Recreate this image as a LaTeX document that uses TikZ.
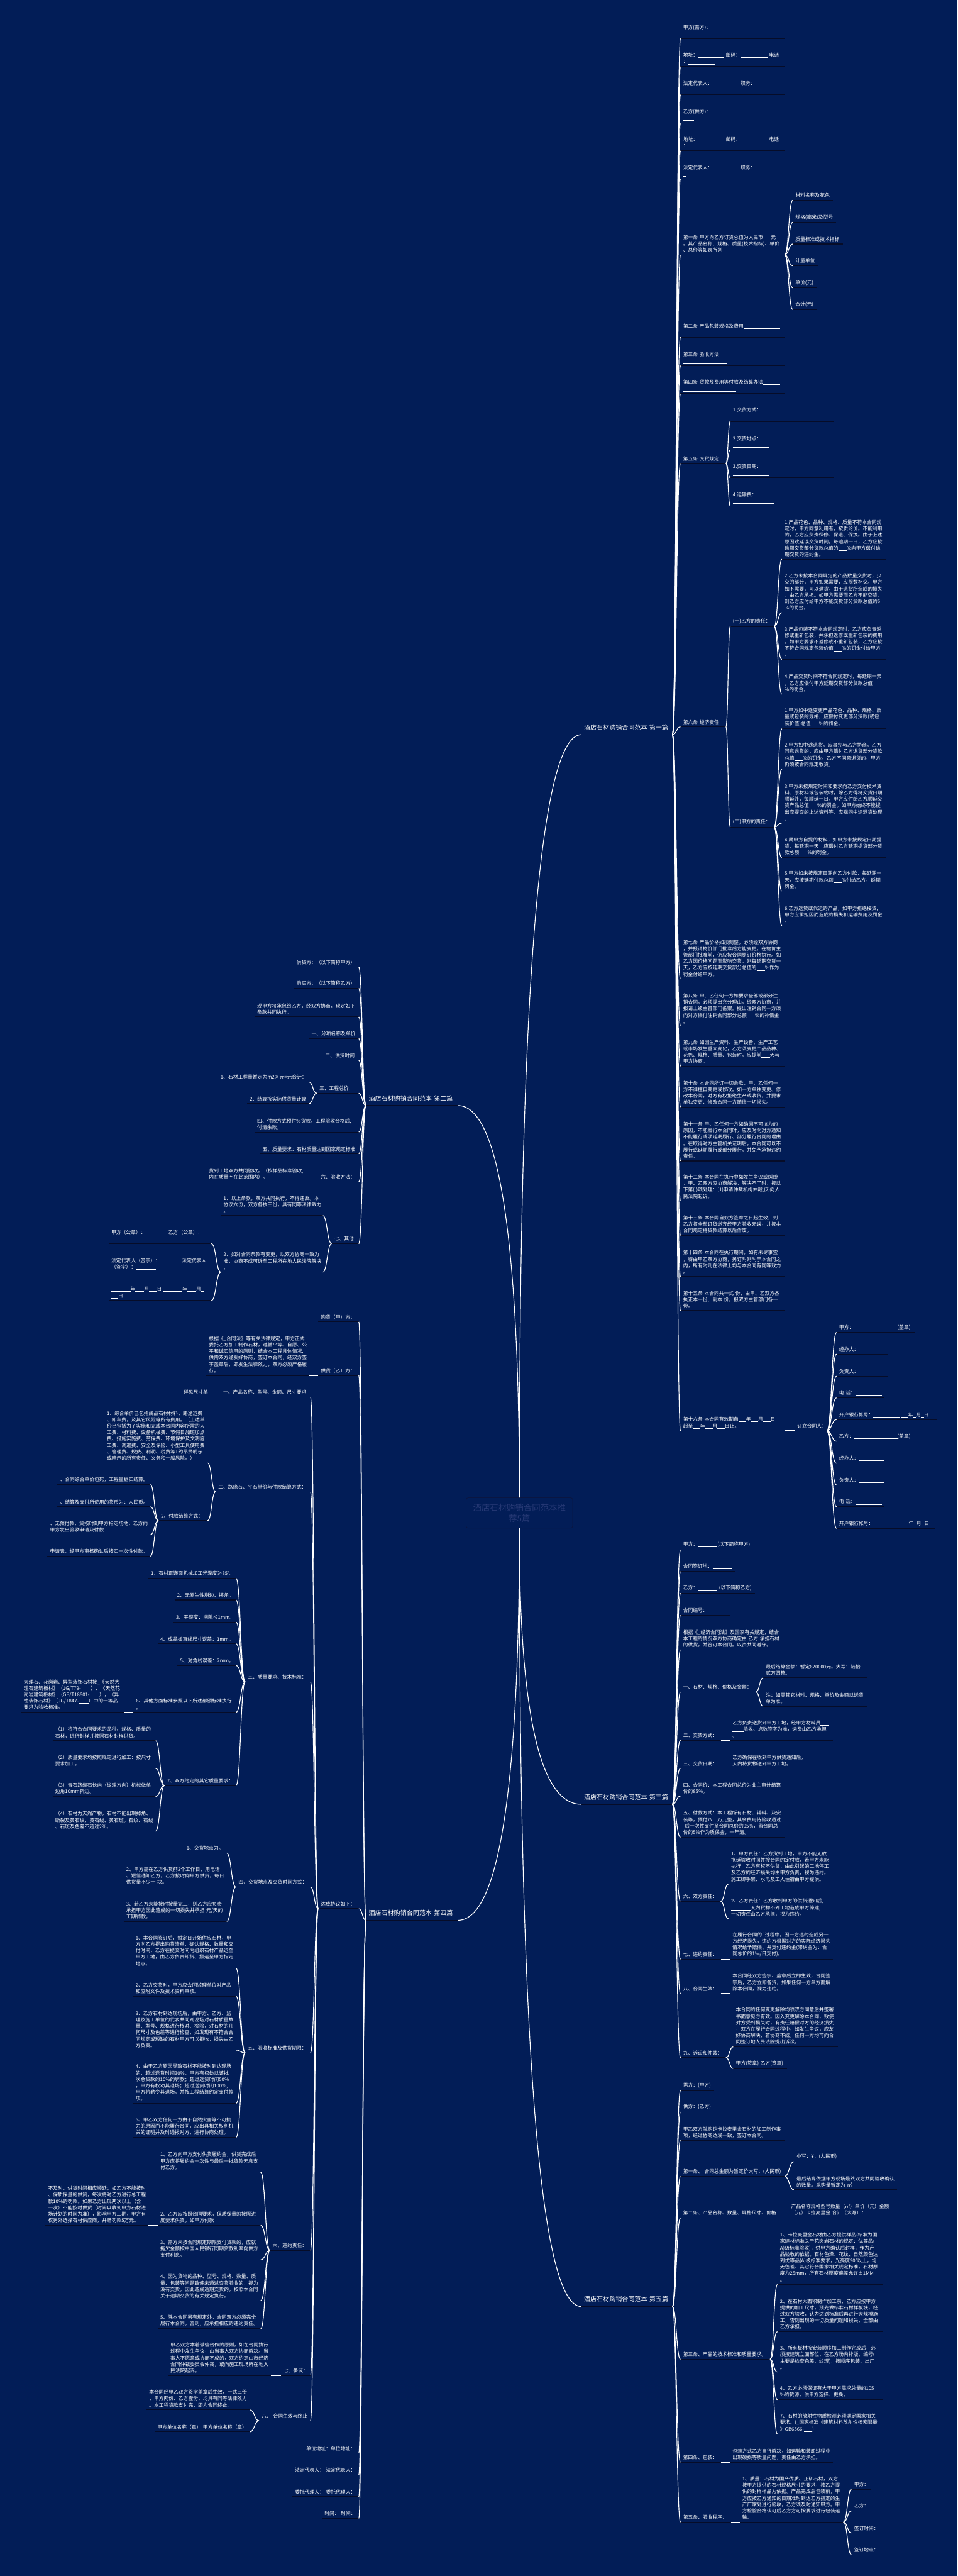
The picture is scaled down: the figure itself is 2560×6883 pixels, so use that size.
\documentclass[tikz,border=0pt]{standalone}
\usepackage{fontspec}
\setmainfont{Noto Sans CJK SC}
\usetikzlibrary{calc}
\definecolor{bgc}{RGB}{2,29,87}
\definecolor{ulc}{RGB}{6,12,40}
\definecolor{hubtx}{RGB}{40,58,118}
\definecolor{hubln}{RGB}{10,22,66}
\newcommand\blk[1]{\rule[-1.2pt]{#1em}{0.5pt}}
\newcommand\leafr[6][]{\pgfmathsetmacro\txw{(#4-#3)*0.7113-10}%
  \node[leaf,#1,text width=\txw pt,anchor=south west] (#2) at (#3,#5) {#6};
  \draw[uline] (#2.south west) -- (#2.south east);}
\newcommand\leafl[6][]{\pgfmathsetmacro\txw{(#4-#3)*0.7113-10}%
  \node[leaf,#1,text width=\txw pt,anchor=south east] (#2) at (#4,#5) {#6};
  \draw[uline] (#2.south west) -- (#2.south east);}
\newcommand\linkr[2]{\draw[conn] let \p1=(#1.south east), \p2=(#2.south west) in
  (\p1) .. controls ({(\x1+\x2)/2},\y1) and ({(\x1+\x2)/2},\y2) .. (\p2);}
\newcommand\linkl[2]{\draw[conn] let \p1=(#1.south west), \p2=(#2.south east) in
  (\p1) .. controls ({(\x1+\x2)/2},\y1) and ({(\x1+\x2)/2},\y2) .. (\p2);}

\begin{document}
\begin{tikzpicture}[x=0.025cm,y=-0.025cm,
  leaf/.style={font=\fontsize{9.3}{12.2}\selectfont,text=white,align=left,inner xsep=5pt,inner ysep=4.5pt},
  sect/.style={font=\fontsize{12}{15}\selectfont,inner ysep=8pt},
  uline/.style={draw=ulc,line width=1.3pt},
  conn/.style={draw=white,line width=1.4pt},
  hub/.style={draw=hubln,fill=bgc,rounded corners=4pt,line width=1pt,minimum width=202.7pt,minimum height=57.6pt,
    text width=196pt,align=center,inner sep=0pt,text=hubtx,font=\fontsize{16}{20.5}\selectfont}]
  \useasboundingbox (0,0) rectangle (2560,6883);
  \fill[bgc] (0,0) rectangle (2560,6883);

  \node[hub] (hub) at (1388.5,4042.5) {酒店石材购销合同范本推\\荐5篇};

  % 第一篇
  \leafr[sect]{s1}{1554}{1797}{1963}{酒店石材购销合同范本~第一篇}
  \leafr{a1}{1819}{2097}{103}{甲方(需方)：\blk{13.9}\\\blk{2.2}}
  \leafr{a2}{1819}{2097}{178}{地址：\blk{5.4}~邮码：\blk{5.5}~电话\\：\blk{5.4}}
  \leafr{a3}{1819}{2097}{253}{法定代表人：\blk{5.4}~职务：\blk{5}\\\blk{0.5}}
  \leafr{a4}{1819}{2097}{328}{乙方(供方)：\blk{13.9}\\\blk{2.2}}
  \leafr{a5}{1819}{2097}{403}{地址：\blk{5.4}~邮码：\blk{5.5}~电话\\：\blk{5.4}}
  \leafr{a6}{1819}{2097}{478}{法定代表人：\blk{5.4}~职务：\blk{5}\\\blk{0.5}}
  \leafr{a7}{1819}{2097}{681}{第一条~甲方向乙方订货总值为人民币\blk{1.6}元\\。其产品名称、规格、质量(技术指标)、单价\\、总价等如表所列}
  \leafr{b1}{2119}{2226}{535}{材料名称及花色}
  \leafr{b2}{2119}{2234}{594}{规格(毫米)及型号}
  \leafr{b3}{2119}{2252}{652}{质量标准或技术指标}
  \leafr{b4}{2119}{2186}{710}{计量单位}
  \leafr{b5}{2119}{2183}{769}{单价(元)}
  \leafr{b6}{2119}{2183}{827}{合计(元)}
  \leafr{a8}{1819}{2097}{901}{第二条~产品包装规格及费用\blk{7.5}\\\blk{10.3}}
  \leafr{a9}{1819}{2097}{977}{第三条~验收方法\blk{12.6}\\\blk{9}}
  \leafr{a10}{1819}{2097}{1052}{第四条~货款及费用等付款及结算办法\blk{3.5}\\\blk{10.8}}
  \leafr{a11}{1819}{1940}{1238}{第五条~交货规定}
  \leafr{c1}{1952}{2229}{1126}{1.交货方式：\blk{13.9}\\\blk{7.5}}
  \leafr{c2}{1952}{2229}{1202}{2.交货地点：\blk{13.9}\\\blk{7.5}}
  \leafr{c3}{1952}{2229}{1277}{3.交货日期：\blk{13.9}\\\blk{7.5}}
  \leafr{c4}{1952}{2229}{1352}{4.运输费：\blk{14.8}\\\blk{8.5}}
  \leafr{a12}{1819}{1940}{1942}{第六条~经济责任}
  \leafr{d1}{1952}{2069}{1674}{(一)乙方的责任：}
  \leafr{e1}{2090}{2369}{1494}{1.产品花色、品种、规格、质量不符本合同规\\定时，甲方同意利用者，按质论价。不能利用\\的，乙方应负责保修、保退、保换。由于上述\\原因致延误交货时间，每逾期一日，乙方应按\\逾期交货部分货款总值的\blk{1.7}\%向甲方偿付逾\\期交货的违约金。}
  \leafr{e2}{2090}{2369}{1637}{2.乙方未按本合同规定的产品数量交货时，少\\交的部分，甲方如果需要，应照数补交。甲方\\如不需要，可以退货。由于退货所造成的损失\\，由乙方承担。如甲方需要而乙方不能交货,\\则乙方应付给甲方不能交货部分货款总值的5\\\%的罚金。}
  \leafr{e3}{2090}{2369}{1762}{3.产品包装不符本合同规定时，乙方应负责返\\修或重新包装，并承担返修或重新包装的费用\\。如甲方要求不返修或不重新包装，乙方应按\\不符合同规定包装价值\blk{1.7}\%的罚金付给甲方\\。}
  \leafr{e4}{2090}{2369}{1855}{4.产品交货时间不符合同规定时，每延期一天\\，乙方应偿付甲方延期交货部分货款总值\blk{1.7}\\\%的罚金。}
  \leafr{d2}{1952}{2069}{2210}{(二)甲方的责任：}
  \leafr{f1}{2090}{2369}{1947}{1.甲方如中途变更产品花色、品种、规格、质\\量或包装的规格，应偿付变更部分货款(或包\\装价值)总值\blk{1.7}\%的罚金。}
  \leafr{f2}{2090}{2369}{2055}{2.甲方如中途退货，应事先与乙方协商，乙方\\同意退货的，应由甲方偿付乙方退货部分货款\\总值\blk{1.7}\%的罚金。乙方不同意退货的，甲方\\仍须按合同规定收货。}
  \leafr{f3}{2090}{2369}{2199}{3.甲方未按规定时间和要求向乙方交付技术资\\料、原材料或包装物时，除乙方得将交货日期\\顺延外，每顺延一日，甲方应付给乙方顺延交\\货产品总值\blk{1.7}\%的罚金。如甲方始终不能提\\出应提交的上述资料等，应视同中途退货处理\\。}
  \leafr{f4}{2090}{2369}{2291}{4.属甲方自提的材料，如甲方未按规定日期提\\货，每延期一天，应偿付乙方延期提货部分货\\款总额\blk{1.7}\%的罚金。}
  \leafr{f5}{2090}{2369}{2381}{5.甲方如未按规定日期向乙方付款，每延期一\\天，应按延期付款总额\blk{1.7}\%付给乙方，延期\\罚金。}
  \leafr{f6}{2090}{2369}{2474}{6.乙方送货或代运的产品，如甲方拒绝接货,\\甲方应承担因而造成的损失和运输费用及罚金\\。}
  \leafr{a13}{1819}{2097}{2616}{第七条~产品价格如须调整，必须经双方协商\\，并报请物价部门批准后方能变更。在物价主\\管部门批准前，仍应按合同原订价格执行。如\\乙方因价格问题而影响交货，则每延期交货一\\天，乙方应按延期交货部分总值的\blk{1.7}\%作为\\罚金付给甲方。}
  \leafr{a14}{1819}{2097}{2742}{第八条~甲、乙任何一方如要求全部或部分注\\销合同，必须提出充分理由，经双方协商，并\\报请上级主管部门备案。提出注销合同一方须\\向对方偿付注销合同部分总额\blk{1.7}\%的补偿金\\。}
  \leafr{a15}{1819}{2097}{2849}{第九条~如因生产资料、生产设备、生产工艺\\或市场发生重大变化，乙方须变更产品品种、\\花色、规格、质量、包装时，应提前\blk{1.7}天与\\甲方协商。}
  \leafr{a16}{1819}{2097}{2958}{第十条~本合同所订一切条款，甲、乙任何一\\方不得擅自变更或修改。如一方单独变更、修\\改本合同，对方有权拒绝生产或收货，并要求\\单独变更、修改合同一方赔偿一切损失。}
  \leafr{a17}{1819}{2097}{3102}{第十一条~甲、乙任何一方如确因不可抗力的\\原因，不能履行本合同时，应及时向对方通知\\不能履行或须延期履行、部分履行合同的理由\\。在取得对方主管机关证明后，本合同可以不\\履行或延期履行或部分履行，并免予承担违约\\责任。}
  \leafr{a18}{1819}{2097}{3209}{第十二条~本合同在执行中如发生争议或纠纷\\，甲、乙双方应协商解决，解决不了时，按以\\下第(~)项处理：(1)申请仲裁机构仲裁;(2)向人\\民法院起诉。}
  \leafr{a19}{1819}{2097}{3301}{第十三条~本合同自双方签章之日起生效，到\\乙方将全部订货送齐经甲方验收无误，并按本\\合同规定将货款结算以后作废。}
  \leafr{a20}{1819}{2097}{3411}{第十四条~本合同在执行期间，如有未尽事宜\\，得由甲乙双方协商，另订附则附于本合同之\\内，所有附则在法律上均与本合同有同等效力\\。}
  \leafr{a21}{1819}{2097}{3502}{第十五条~本合同共一式~份，由甲、乙双方各\\执正本一份、副本~份，报双方主管部门各一\\份。}
  \leafr{a22}{1819}{2096}{3823}{第十六条~本合同有效期自\blk{1.5}年\blk{1.5}月\blk{1.5}日\\起至\blk{1.5}年\blk{1.5}月\blk{1.5}日止。}
  \leafr{g1}{2124}{2210}{3823}{订立合同人：}
  \leafr{h1}{2236}{2446}{3560}{甲方：\blk{8.9}(盖章)}
  \leafr{h2}{2236}{2373}{3618}{经办人：\blk{5.3}}
  \leafr{h3}{2236}{2373}{3677}{负责人：\blk{5.3}}
  \leafr{h4}{2236}{2364}{3735}{电~话：\blk{5.4}}
  \leafr{h5}{2236}{2503}{3793}{开户银行帐号：\blk{5.3}~\blk{1.5}年\blk{0.6}月\blk{0.6}日}
  \leafr{h6}{2236}{2446}{3851}{乙方：\blk{8.9}(盖章)}
  \leafr{h7}{2236}{2373}{3910}{经办人：\blk{5.3}}
  \leafr{h8}{2236}{2373}{3968}{负责人：\blk{5.3}}
  \leafr{h9}{2236}{2364}{4026}{电~话：\blk{5.4}}
  \leafr{h10}{2236}{2498}{4084}{开户银行帐号：\blk{7.2}年\blk{0.6}月\blk{0.6}日}

  % 第三篇
  \leafr[sect]{s3}{1554}{1797}{4821}{酒店石材购销合同范本~第三篇}
  \leafr{k1}{1819}{2013}{4141}{甲方：\blk{4}(以下简称甲方)}
  \leafr{k2}{1819}{1965}{4199}{合同签订地：\blk{4}}
  \leafr{k3}{1819}{2017}{4257}{乙方：\blk{4}~(以下简称乙方)}
  \leafr{k4}{1819}{1951}{4316}{合同编号：\blk{4}}
  \leafr{k5}{1819}{2096}{4408}{根据《\_经济合同法》及国家有关规定，结合\\本工程的情况双方协商确定由~乙方~承担石材\\的供货，并签订本合同。以资共同遵守。}
  \leafr{k6}{1819}{2020}{4521}{一、石材、规格、价格及金额：}
  \leafr{m1}{2040}{2317}{4483}{最后结算金额：暂定620000元。大写：陆拾\\贰万圆整。}
  \leafr{m2}{2040}{2319}{4559}{注：如需其它材料、规格、单价及金额以送货\\单为准。}
  \leafr{k7}{1819}{1926}{4650}{二、交货方式：}
  \leafr{n1}{1951}{2226}{4650}{乙方负责送货到甲方工地，经甲方材料员\blk{1.8}\\\blk{2.2}验收、点数签字为准，运费由乙方承担\\。}
  \leafr{k8}{1819}{1926}{4725}{三、交货日期：}
  \leafr{n2}{1951}{2226}{4725}{乙方确保在收到甲方供货通知后，\blk{4}\\天内将货物送到甲方工地。}
  \leafr{k9}{1819}{2097}{4799}{四、合同价：本工程合同总价为业主审计结算\\价的85\%。}
  \leafr{k10}{1819}{2097}{4909}{五、付款方式：本工程所有石材、辅料、及安\\装等，预付八十万元整，其余费用待验收通过\\~后一次性支付至合同总价的95\%，留合同总\\价的5\%作为质保金，一年清。}
  \leafr{k11}{1819}{1926}{5080}{六、双方责任：}
  \leafr{p1}{1947}{2226}{5034}{1、甲方责任：乙方货到工地，甲方不能无故\\拖延验收时间并按合同约定付款，若甲方未能\\执行，乙方有权不供货，由此引起的工地停工\\及乙方的经济损失均由甲方负责，视为违约。\\施工脚手架、水电及工人住宿由甲方提供。}
  \leafr{p2}{1947}{2226}{5127}{2、乙方责任：乙方收到甲方的供货通知后,\\\blk{4}天内货物不到工地造成甲方停建,\\一切责任由乙方承担，视为违约。}
  \leafr{k12}{1819}{1926}{5235}{七、违约责任：}
  \leafr{q1}{1951}{2226}{5235}{在履行合同的\textasciigrave{}过程中，因一方违约造成另一\\方经济损失，违约方根据对方的实际经济损失\\情况给予赔偿、并支付违约金(滞纳金为：合\\同总价的1‰/日支付)。}
  \leafr{k13}{1819}{1926}{5327}{八、合同生效：}
  \leafr{q2}{1951}{2226}{5327}{本合同经双方签字、盖章后立即生效，合同签\\字后，乙方立即备货，如果任何一方单方面解\\除本合同，视为违约。}
  \leafr{k14}{1819}{1940}{5498}{九、诉讼和仲裁：}
  \leafr{r1}{1960}{2239}{5469}{本合同的任何变更解除均须双方同意后并签署\\书面意见方有效。因入变更解除本合同，致使\\对方受到损失时，有责任赔偿对方的经济损失\\，双方在履行合同过程中，如发生争议，应友\\好协商解决，若协商不成，任何一方均可向合\\同签订地人民法院提出诉讼。}
  \leafr{r2}{1960}{2103}{5527}{甲方(签章)~乙方(签章)}

  % 第五篇
  \leafr[sect]{s5}{1554}{1797}{6163}{酒店石材购销合同范本~第五篇}
  \leafr{t1}{1819}{1909}{5586}{需方：(甲方)}
  \leafr{t2}{1819}{1909}{5643}{供方：(乙方)}
  \leafr{t3}{1819}{2097}{5719}{甲乙双方就购销卡拉麦里金石材的加工制作事\\项，经过协商达成一致，签订本合同。}
  \leafr{t4}{1819}{2097}{5815}{第一条、~合同总金额为暂定价大写：(人民币)}
  \leafr{u1}{2122}{2247}{5776}{小写：¥：(人民币)}
  \leafr{u2}{2122}{2397}{5851}{最后结算依据甲方现场最终双方共同验收确认\\的数量。采购量暂定为~㎡}
  \leafr{t5}{1819}{2083}{5926}{第二条、产品名称、数量、规格尺寸、价格}
  \leafr{v1}{2108}{2383}{5926}{产品名称规格型号数量（㎡）单价（元）金额\\（元）卡拉麦里金~合计（大写）：}
  \leafr{t6}{1819}{2058}{6304}{第三条、产品的技术标准和质量要求。}
  \leafr{w1}{2078}{2358}{6104}{1、卡拉麦里金石材由乙方提供样品(标准为国\\家建材标准关于花岗岩石材的规定：优等品(\\A)级标准验收)，供甲方确认后封样，作为产\\品验收的依据。石材色泽、花纹、自然颜色达\\到优等品(A)级标准要求，光亮度90°以上，均\\无色差、其它符合国家相关规定标准，石材厚\\度为25mm，所有石材厚度偏差允许±1MM\\。}
  \leafr{w2}{2078}{2358}{6230}{2、在石材大面积制作加工前，乙方应按甲方\\提供的加工尺寸，预先做标准石材样板块，经\\过双方验收，认为达到标准后再进行大规模施\\工，否则出现的一切质量问题和损失，全部由\\乙方承担。}
  \leafr{w3}{2078}{2358}{6338}{3、所有板材按安装顺序加工制作完成后，必\\须按建筑立面部位，在乙方场内排版、编号(\\主要是检查色差、纹理)，按顺序包装、出厂\\。}
  \leafr{w4}{2078}{2358}{6412}{4、乙方必须保证有大于甲方需求总量的105\\\%的货源，供甲方选择、更换。}
  \leafr{w5}{2078}{2358}{6504}{7、石材的放射性物质检测必须满足国家相关\\要求。(\_国家标准《建筑材料放射性核素限量\\》GB6566-\blk{1.7})}
  \leafr{t7}{1819}{1926}{6579}{第四条、包装：}
  \leafr{pk}{1951}{2226}{6579}{包装方式乙方自行解决，如运输和装卸过程中\\出现破损等质量问题，责任由乙方承担。}
  \leafr{t8}{1819}{1953}{6739}{第五条、验收程序：}
  \leafr{ch}{1977}{2254}{6739}{1、质量：石材为国产优质、正矿石材，双方\\按甲方提供的石材规格尺寸的要求，按乙方提\\供的封样样品为依据。产品完成后包装前，甲\\方应按乙方通知的日期准时到达乙方指定的生\\产厂家处进行验收，乙方须及时通知甲方。甲\\方检验合格认可后乙方方可按要求进行包装运\\输。}
  \leafr{sg1}{2276}{2329}{6651}{甲方：}
  \leafr{sg2}{2276}{2329}{6709}{乙方：}
  \leafr{sg3}{2276}{2354}{6768}{签订时间：}
  \leafr{sg4}{2276}{2354}{6826}{签订地点：}

  % 第二篇
  \leafl[sect]{s2}{979}{1224}{2954}{酒店石材购销合同范本~第二篇}
  \leafl{l1}{786}{959}{2584}{供货方：（以下简称甲方）}
  \leafl{l2}{786}{959}{2641}{购买方：（以下简称乙方）}
  \leafl{l3}{681}{959}{2717}{现甲方将承包给乙方，经双方协商，现定如下\\条款共同执行。}
  \leafl{l4}{826}{959}{2775}{一、分项名称及单价}
  \leafl{l5}{863}{959}{2833}{二、供货时间}
  \leafl{l6}{847}{959}{2921}{三、工程总价：}
  \leafl{lm1}{583}{826}{2891}{1、石材工程量暂定为m2×元=元合计：}
  \leafl{lm2}{661}{826}{2949}{2、结算按实际供货量计算}
  \leafl{l7}{681}{959}{3025}{四、付款方式预付\%货款，工程验收合格后,\\付清余款。}
  \leafl{l8}{695}{959}{3083}{五、质量要求：石材质量达到国家规定标准}
  \leafl{l9}{851}{959}{3158}{六、验收方法：}
  \leafl{lm3}{552}{826}{3158}{货到工地双方共同验收。（按样品标准验收,\\内在质量不在此范围内）。}
  \leafl{l10}{887}{959}{3323}{七、其他}
  \leafl{lm4}{591}{863}{3248}{1、以上条款，双方共同执行，不得违反。本\\协议六份，双方各执三份，具有同等法律效力\\。}
  \leafl{lm5}{591}{863}{3399}{2、如对合同条款有变更，以双方协商一致为\\准，协商不成可诉至工程所在地人民法院解决\\。}
  \leafl{ln1}{291}{565}{3323}{甲方（公章）：\blk{4}~~乙方（公章）：\blk{0.5}\\\blk{3.6}}
  \leafl{ln2}{291}{565}{3399}{法定代表人（签字）：\blk{4.1}~法定代表人\\（签字）：\blk{4.1}}
  \leafl{ln3}{291}{565}{3475}{\blk{3.9}年\blk{1.8}月\blk{1.6}日~\blk{3.9}年\blk{1.8}月\blk{0.5}\\\blk{1.4}日}

  % 第四篇
  \leafl[sect]{s4}{979}{1224}{5131}{酒店石材购销合同范本~第四篇}
  \leafl{o1}{851}{959}{3532}{购货（甲）方：}
  \leafl{o2}{851}{959}{3675}{供货（乙）方：}
  \leafl{o2x}{552}{826}{3675}{根据《\_合同法》等有关法律规定，甲方正式\\委托乙方加工制作石材，遵循平等、自愿、公\\平和诚实信用的原则，结合本工程具体情况,\\供需双方经友好协商，签订本合同，经双方签\\字盖章后，即发生法律效力，双方必须严格履\\行。}
  \leafl{o3}{851}{959}{5100}{达成协议如下：}
  \leafl{j1}{590}{830}{3733}{一、产品名称、型号、金额、尺寸要求}
  \leafl{jx}{484}{565}{3733}{详见尺寸单}
  \leafl{j2}{577}{830}{3986}{二、路缘石、平石单价与付款结算方式：}
  \leafl{ja1}{279}{555}{3909}{1、综合单价已包括成品石材材料，路途运费\\、卸车费，及其它风险等所有费用。（上述单\\价已包括为了实施和完成本合同内容所需的人\\工费、材料费、设备机械费、节假日加班加点\\费、措施实施费、劳保费、环境保护及文明施\\工费、调遣费、安全及保险、小型工具使用费\\、管理费、规费、利润、税费等T约昂贤明示\\或暗示的所有责任、义务和一般风险。）}
  \leafl{ja2}{424}{555}{4063}{2、付款结算方式：}
  \leafl{jb1}{154}{402}{3967}{、合同综合单价包死，工程量据实结算;}
  \leafl{jb2}{154}{402}{4026}{、结算及支付所使用的货币为：人民币。}
  \leafl{jb3}{127}{402}{4101}{、无预付款，货按时到甲方指定场地，乙方向\\甲方发出验收申请及付款}
  \leafl{jb4}{127}{402}{4158}{申请表，经甲方审核确认后按实一次性付款。}
  \leafl{j3}{656}{830}{4494}{三、质量要求、技术标准：}
  \leafl{jc1}{397}{631}{4217}{1、石材正饰面机械加工光泽度≥85°。}
  \leafl{jc2}{467}{631}{4275}{2、无原生性崩边、摔角。}
  \leafl{jc3}{464}{631}{4334}{3、平整度：间隙≤1mm。}
  \leafl{jc4}{422}{631}{4392}{4、成品板直线尺寸误差：1mm。}
  \leafl{jc5}{475}{631}{4450}{5、对角线误差：2mm。}
  \leafl{jc6}{357}{631}{4575}{6、其他方面标准参照以下所述部颁标准执行\\。}
  \leafl{jc6x}{57}{332}{4575}{大理石、花岗岩、异型装饰石材按\_《天然大\\理石建筑板材》（JG/T79-\blk{2}）、《天然花\\岗岩建筑板材》（GB/T18601-\blk{2}），《异\\性装饰石材》（JG/T847-\blk{2}）中的一等品\\要求为验收标准。}
  \leafl{jc7}{440}{631}{4771}{7、双方约定的其它质量要求：}
  \leafl{jd1}{141}{416}{4651}{（1）将符合合同要求的品种、规格、质量的\\石材，进行封样并按照石材封样供货。}
  \leafl{jd2}{141}{416}{4725}{（2）质量要求均按照规定进行加工：按尺寸\\要求加工。}
  \leafl{jd3}{141}{416}{4800}{（3）青石路缘石长向（纹理方向）机械做单\\边角10mm斜边。}
  \leafl{jd4}{141}{416}{4893}{（4）石材为天然产物，石材不能出现掉角、\\断裂及黄石纹、黄石线、黄石斑。石纹、石线\\、石斑及色差不超过2\%。}
  \leafl{j4}{631}{830}{5042}{四、交货地点及交货时间方式：}
  \leafl{je1}{492}{606}{4951}{1、交货地点为。}
  \leafl{je2}{331}{606}{5042}{2、甲方需在乙方供货前2个工作日，用电话\\、短信通知乙方，乙方按时向甲方供货，每日\\供货量不少于~块。}
  \leafl{je3}{331}{606}{5134}{3、若乙方未能按时按量完工，则乙方应负责\\承担甲方因此造成的一切损失并承担~元/天的\\工期罚款。}
  \leafl{j5}{656}{830}{5485}{五、验收标准及供货期限：}
  \leafl{jf1}{356}{631}{5259}{1、本合同签订后，暂定日开始供应石材，甲\\方向乙方提出购货清单，确认规格、数量和交\\付时间，乙方在提交时间内组织石材产品运至\\甲方工地，由乙方负责卸货、搬运至甲方指定\\地点。}
  \leafl{jf2}{356}{631}{5334}{2、乙方交货时，甲方应会同监理单位对产品\\和应附文件及技术资料审核。}
  \leafl{jf3}{356}{631}{5478}{3、乙方石材到达现场后，由甲方、乙方、监\\理及施工单位的代表共同到现场对石材质量数\\量、型号、规格进行核对、检验，对石材的几\\何尺寸及色差等进行检查，如发现有不符合合\\同规定或短缺的石材甲方可以拒收，损失由乙\\方负责。}
  \leafl{jf4}{356}{631}{5620}{4、由于乙方原因导致石材不能按时到达现场\\的，超过送货时间30\%，甲方有权处以该批\\次总货款的10\%的罚款；超过送货时间50\%\\，甲方有权劝其退场；超过送货时间100\%,\\甲方将勒令其退场，并按工程结算约定支付款\\项。}
  \leafl{jf5}{356}{631}{5711}{5、甲乙双方任何一方由于自然灾害等不可抗\\力的原因而不能履行合同，应出具相关权利机\\关的证明并及时通报对方，进行协商处理。}
  \leafl{j6}{722}{830}{6013}{六、违约责任：}
  \leafl{jg1}{422}{697}{5804}{1、乙方向甲方支付供货履约金，供货完成后\\甲方应将履约金一次性与最后一批货款无息支\\付乙方。}
  \leafl{jg2}{422}{697}{5946}{2、乙方应按照合同要求，保质保量的按照进\\度要求供货，如甲方付款}
  \leafl{jg2x}{122}{397}{5946}{不及时，供货时间相应顺延；如乙方不能按时\\、保质保量的供货，每次将对乙方进行总工程\\款10\%的罚款。如果乙方出现两次以上（含\\一次）不能按时供货（时间以收到甲方石材进\\场计划的时间为准），影响甲方工期，甲方有\\权另外选择石材供应商，并赔罚款5万元。}
  \leafl{jg3}{422}{697}{6038}{3、需方未按合同规定期限支付货款的，应就\\拖欠金额按中国人民银行同期贷款利率向供方\\支付利息。}
  \leafl{jg4}{422}{697}{6147}{4、因为货物的品种、型号、规格、数量、质\\量、包装等问题致使未通过交货验收的，视为\\没有交货，因此造成逾期交货的，按照本合同\\关于逾期交货的有关规定执行。}
  \leafl{jg5}{422}{697}{6222}{5、除本合同另有规定外，合同双方必须完全\\履行本合同，否则，应承担相应的违约责任。}
  \leafl{j7}{751}{830}{6347}{七、争议：}
  \leafl{jh}{449}{724}{6347}{甲乙双方本着诚信合作的原则，如在合同执行\\过程中发生争议，由当事人双方协商解决。当\\事人不愿意或协商不成的，双方约定由市经济\\合同仲裁委员会仲裁，或向施工现场所在地人\\民法院起诉。}
  \leafl{j8}{693}{830}{6468}{八、~合同生效与终止}
  \leafl{ji1}{392}{668}{6439}{本合同经甲乙双方签字盖章后生效，一式三份\\，甲方两份、乙方壹份，均具有同等法律效力\\。本工程货款支付完，即为合同终止。}
  \leafl{ji2}{414}{668}{6498}{甲方单位名称（章）~甲方单位名称（章）}
  \leafl{o4}{812}{959}{6555}{单位地址：单位地址：}
  \leafl{o5}{782}{959}{6613}{法定代表人：~法定代表人：}
  \leafl{o6}{782}{959}{6671}{委托代理人：~委托代理人：}
  \leafl{o7}{861}{959}{6729}{时间：~时间：}

  \draw[conn] (hub.north) .. controls (1388,2643) and (1443,1963) .. (s1.south west);
  \draw[conn] (hub.north) .. controls (1388,3303) and (1333,2954) .. (s2.south east);
  \draw[conn] (hub.south) .. controls (1388,4575) and (1443,4821) .. (s3.south west);
  \draw[conn] (hub.south) .. controls (1388,4782) and (1333,5131) .. (s4.south east);
  \draw[conn] (hub.south) .. controls (1388,5470) and (1443,6163) .. (s5.south west);

  \foreach \i in {1,...,22}{\linkr{s1}{a\i}}
  \foreach \i in {1,...,6}{\linkr{a7}{b\i}}
  \foreach \i in {1,...,4}{\linkr{a11}{c\i}}
  \linkr{a12}{d1} \linkr{a12}{d2}
  \foreach \i in {1,...,4}{\linkr{d1}{e\i}}
  \foreach \i in {1,...,6}{\linkr{d2}{f\i}}
  \linkr{a22}{g1}
  \foreach \i in {1,...,10}{\linkr{g1}{h\i}}

  \foreach \i in {1,...,14}{\linkr{s3}{k\i}}
  \linkr{k6}{m1} \linkr{k6}{m2} \linkr{k7}{n1} \linkr{k8}{n2}
  \linkr{k11}{p1} \linkr{k11}{p2} \linkr{k12}{q1} \linkr{k13}{q2}
  \linkr{k14}{r1} \linkr{k14}{r2}

  \foreach \i in {1,...,8}{\linkr{s5}{t\i}}
  \linkr{t4}{u1} \linkr{t4}{u2} \linkr{t5}{v1}
  \foreach \i in {1,...,5}{\linkr{t6}{w\i}}
  \linkr{t7}{pk} \linkr{t8}{ch}
  \foreach \i in {1,...,4}{\linkr{ch}{sg\i}}

  \foreach \i in {1,...,10}{\linkl{s2}{l\i}}
  \linkl{l6}{lm1} \linkl{l6}{lm2} \linkl{l9}{lm3} \linkl{l10}{lm4} \linkl{l10}{lm5}
  \foreach \i in {1,2,3}{\linkl{lm5}{ln\i}}

  \foreach \i in {1,...,7}{\linkl{s4}{o\i}}
  \linkl{o2}{o2x}
  \foreach \i in {1,...,8}{\linkl{o3}{j\i}}
  \linkl{j1}{jx} \linkl{j2}{ja1} \linkl{j2}{ja2}
  \foreach \i in {1,...,4}{\linkl{ja2}{jb\i}}
  \foreach \i in {1,...,7}{\linkl{j3}{jc\i}}
  \linkl{jc6}{jc6x}
  \foreach \i in {1,...,4}{\linkl{jc7}{jd\i}}
  \foreach \i in {1,2,3}{\linkl{j4}{je\i}}
  \foreach \i in {1,...,5}{\linkl{j5}{jf\i}}
  \foreach \i in {1,...,5}{\linkl{j6}{jg\i}}
  \linkl{jg2}{jg2x} \linkl{j7}{jh}
  \linkl{j8}{ji1} \linkl{j8}{ji2}
\end{tikzpicture}
\end{document}
